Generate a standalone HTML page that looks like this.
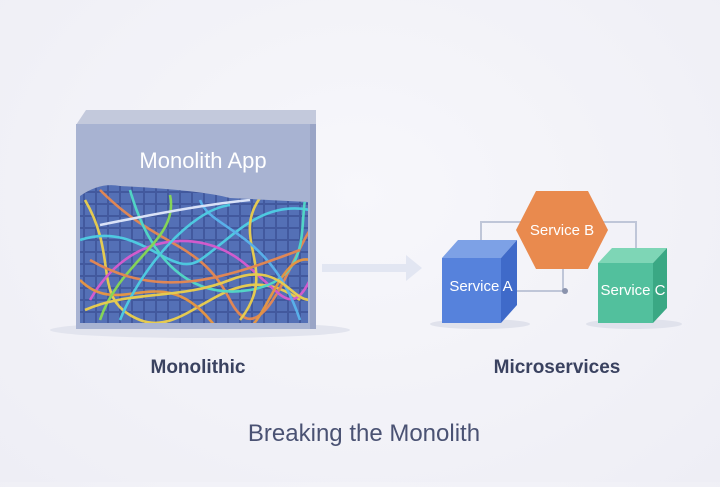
<!DOCTYPE html>
<html><head><style>
html,body{margin:0;padding:0}
body{width:720px;height:482px;overflow:hidden;background:radial-gradient(ellipse at 50% 40%,#f7f7fb 0%,#eeeef5 100%);font-family:"Liberation Sans","DejaVu Sans",sans-serif}
</style></head><body>
<svg width="720" height="482" viewBox="0 0 720 482" xmlns="http://www.w3.org/2000/svg">
<defs>
<clipPath id="inner"><path d="M80 196 Q100 182 120 186 Q200 190 230 198 L308 202 L308 323 L80 323 Z"/></clipPath>
<pattern id="grid" width="12" height="12" patternUnits="userSpaceOnUse"><rect width="12" height="12" fill="#42599e"/><rect x="1" y="1" width="10" height="10" fill="#5470b6"/></pattern>
</defs>
<ellipse cx="200" cy="330" rx="150" ry="8" fill="#e2e4ee"/>
<path d="M76 125 L86 110 L316 110 L316 125 Z" fill="#c3c9dc"/>
<rect x="76" y="124" width="240" height="205" fill="#a8b3d2"/>
<rect x="310" y="124" width="6" height="205" fill="#9aa5c6"/>
<g clip-path="url(#inner)">
<rect x="78" y="180" width="232" height="145" fill="url(#grid)"/>
<g fill="none" stroke-width="2.6" opacity="0.9">
<path d="M85 200 C120 260 90 300 140 320 S230 250 300 300" stroke="#f5d547"/>
<path d="M100 190 C160 250 200 240 230 300 S290 260 310 230" stroke="#f08a4b"/>
<path d="M80 240 C140 220 170 280 200 260 S260 200 310 210" stroke="#4fd4e6"/>
<path d="M90 300 C130 230 200 230 240 260 S290 320 310 280" stroke="#e05ad0"/>
<path d="M130 190 C150 260 190 300 250 290 S300 230 305 200" stroke="#53e0c8"/>
<path d="M80 280 C120 320 160 260 210 320 S270 250 310 260" stroke="#f39a3a"/>
<path d="M170 195 C180 240 120 260 100 320" stroke="#8be04f"/>
<path d="M260 198 C230 240 280 270 240 320" stroke="#f5d547"/>
<path d="M200 200 C210 230 270 230 300 320" stroke="#5ab8f0"/>
<path d="M100 225 C150 215 200 205 250 200" stroke="#e9f0ff"/>
<path d="M90 260 C160 300 220 280 300 250" stroke="#f08a4b"/>
<path d="M120 320 C140 270 190 210 230 205" stroke="#4fd4e6"/>
<path d="M85 310 C130 290 180 300 230 280 S290 300 310 300" stroke="#f5d547"/>
</g>
</g>
<text x="203" y="168" text-anchor="middle" font-size="22" fill="#fff">Monolith App</text>
<text x="198" y="373" text-anchor="middle" font-size="19" font-weight="bold" fill="#3a4260">Monolithic</text>
<path d="M322 264 L406 264 L406 255 L422 268 L406 281 L406 272 L322 272 Z" fill="#e2e6f2"/>
<g stroke="#bfc6d8" stroke-width="2" fill="none">
<path d="M481 243 L481 222 L636 222 L636 250"/>
<path d="M563 268 L563 291 L517 291"/>
</g>
<circle cx="481" cy="242" r="1.5" fill="#444"/><circle cx="636" cy="250" r="1.5" fill="#444"/><circle cx="565" cy="291" r="3" fill="#8a93ad"/>
<ellipse cx="480" cy="324" rx="50" ry="5" fill="#e0e2ec"/>
<ellipse cx="634" cy="324" rx="48" ry="5" fill="#e0e2ec"/>
<path d="M442 258 L458 240 L517 240 L501 258 Z" fill="#7da1e6"/>
<path d="M501 258 L517 240 L517 305 L501 323 Z" fill="#3f6ac9"/>
<rect x="442" y="258" width="59" height="65" fill="#5682dc"/>
<text x="481" y="291" text-anchor="middle" font-size="15" fill="#fff">Service A</text>
<polygon points="516,230 536,191 588,191 608,230 588,269 536,269" fill="#e98a4e"/>
<text x="562" y="235" text-anchor="middle" font-size="15" fill="#fff">Service B</text>
<path d="M598 263 L612 248 L667 248 L653 263 Z" fill="#7ed6b6"/>
<path d="M653 263 L667 248 L667 308 L653 323 Z" fill="#3aa884"/>
<rect x="598" y="263" width="55" height="60" fill="#52c09d"/>
<text x="633" y="295" text-anchor="middle" font-size="15" fill="#fff">Service C</text>
<text x="557" y="373" text-anchor="middle" font-size="19" font-weight="bold" fill="#3a4260">Microservices</text>
<text x="364" y="441" text-anchor="middle" font-size="24" fill="#4a5273">Breaking the Monolith</text>
</svg>
</body></html>
